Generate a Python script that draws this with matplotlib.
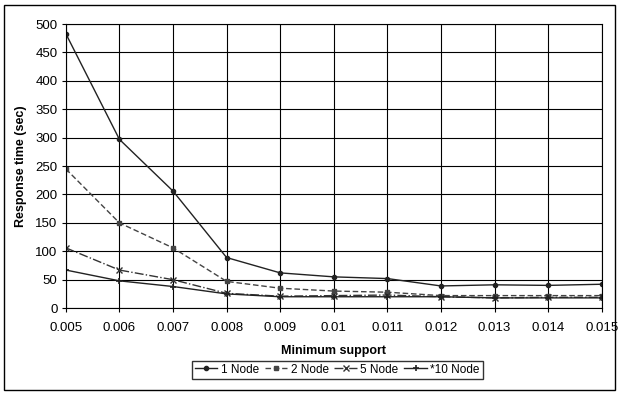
import matplotlib.pyplot as plt
from matplotlib.patches import Rectangle

plt.rcParams['font.family'] = ['Liberation Sans', 'DejaVu Sans']

# Daten
support = [0.005, 0.006, 0.007, 0.008, 0.009, 0.01, 0.011, 0.012, 0.013, 0.014, 0.015]
support_labels = ['0.005', '0.006', '0.007', '0.008', '0.009', '0.01',
                  '0.011', '0.012', '0.013', '0.014', '0.015']
node1 = [483, 297, 206, 89, 62, 55, 52, 39, 41, 40, 42]
node2 = [245, 150, 106, 47, 35, 30, 28, 22, 22, 22, 22]
node5 = [106, 67, 50, 26, 21, 22, 23, 20, 18, 19, 19]
node10 = [67, 48, 38, 25, 20, 20, 20, 20, 18, 18, 18]

fig = plt.figure(figsize=(6.21, 3.94), dpi=100)
ax = fig.add_axes([0.106, 0.218, 0.863, 0.721])

ax.plot(support, node1, color='#222222', lw=1.0, ls='-', marker='o', ms=3, label='1 Node')
ax.plot(support, node2, color='#444444', lw=1.0, ls=(0, (4, 2)), marker='s', ms=3, label='2 Node')
ax.plot(support, node5, color='#333333', lw=1.0, ls='-.', marker='x', ms=4, label='5 Node')
ax.plot(support, node10, color='#222222', lw=1.0, ls='-', marker='+', ms=5, mew=1.2, label='*10 Node')

ax.set_xlim(0.005, 0.015)
ax.set_ylim(0, 500)
ax.set_xticks(support)
ax.set_xticklabels(support_labels)
ax.set_yticks(range(0, 501, 50))
ax.grid(True, color='black', lw=0.8)
for s in ax.spines.values():
    s.set_color('black')
    s.set_linewidth(0.8)
ax.tick_params(labelsize=9.5, length=3, color='black', pad=7)
ax.tick_params(axis='y', pad=3)

ax.set_xlabel('Minimum support', fontsize=9, fontweight='bold', labelpad=8)
ax.set_ylabel('Response time (sec)', fontsize=9, fontweight='bold', labelpad=6)

fig.legend(loc='center', bbox_to_anchor=(0.543, 0.062), ncol=4, fontsize=8.5,
           frameon=True, fancybox=False, edgecolor='black', handlelength=1.9,
           handletextpad=0.3, columnspacing=0.5, borderpad=0.25)

fig.patches.append(Rectangle((0.006, 0.01), 0.985, 0.978, transform=fig.transFigure,
                             fill=False, edgecolor='black', lw=1.0))

plt.savefig('out.png', dpi=100)
